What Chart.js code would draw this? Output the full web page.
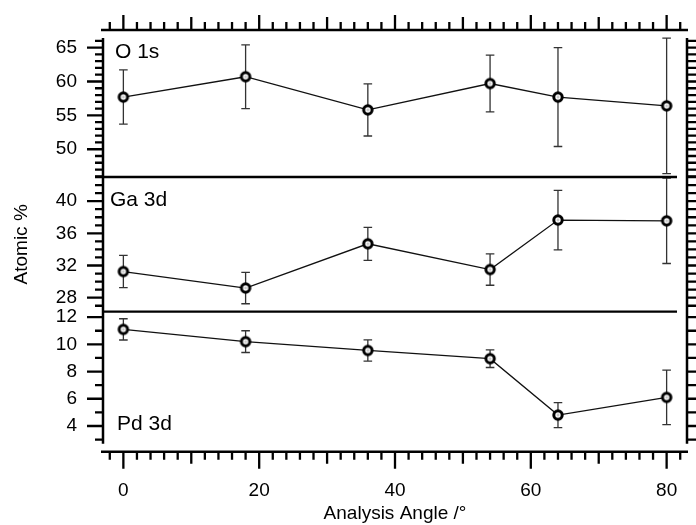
<!DOCTYPE html>
<html>
<head>
<meta charset="utf-8">
<script src="https://cdn.jsdelivr.net/npm/chart.js@4.4.0/dist/chart.umd.min.js"></script>
<style>
  html, body { margin: 0; padding: 0; background: #fff; }
  #wrap { width: 696px; height: 525px; }
</style>
</head>
<body>
<div id="wrap"><canvas id="chart"></canvas></div>
<script>
const angles = [0, 18, 36, 54, 64, 80];
const o1s = [57.7, 60.7, 55.8, 59.7, 57.7, 56.4];
const o1sErr = [4.0, 4.7, 3.85, 4.2, 7.3, 10.0];
const ga3d = [31.25, 29.2, 34.7, 31.5, 37.65, 37.55];
const ga3dErr = [2.0, 1.95, 2.05, 1.95, 3.7, 5.3];
const pd3d = [11.1, 10.2, 9.55, 8.95, 4.8, 6.1];
const pd3dErr = [0.78, 0.8, 0.78, 0.65, 0.92, 2.0];

const xTicks = [0, 20, 40, 60, 80];
const oTicks = [50, 55, 60, 65];
const gaTicks = [28, 32, 36, 40];
const pdTicks = [4, 6, 8, 10, 12];
const panelNames = ['O 1s', 'Ga 3d', 'Pd 3d'];

const FONT = '"Liberation Sans", Arial, sans-serif';

// marker: open circle with a faint cross
const marker = document.createElement('canvas');
marker.width = 14; marker.height = 14;
(function () {
  const m = marker.getContext('2d');
  m.fillStyle = '#fff';
  m.strokeStyle = '#000';
  m.lineWidth = 3;
  m.beginPath(); m.arc(7, 7, 4.2, 0, Math.PI * 2); m.fill(); m.stroke();
  m.lineWidth = 0.6;
  m.strokeStyle = '#999';
  m.beginPath();
  m.moveTo(5.5, 7); m.lineTo(8.5, 7);
  m.moveTo(7, 5.5); m.lineTo(7, 8.5);
  m.stroke();
})();

const toPts = vals => angles.map((a, i) => ({ x: a, y: vals[i] }));

const series = (vals, axis) => ({
  data: toPts(vals),
  yAxisID: axis,
  borderColor: '#111',
  borderWidth: 1.3,
  pointStyle: marker,
  pointRadius: 6,
  tension: 0,
  clip: false
});

// invisible tick marks are only used to push the labels away from the axis
const spacerGrid = len => ({
  display: true, drawOnChartArea: false, drawTicks: true,
  tickLength: len, tickColor: 'rgba(0,0,0,0)'
});

const yAxis = (min, max, weight, ticksArr, extra) => Object.assign({
  type: 'linear',
  position: 'left',
  stack: 'panels',
  stackWeight: weight,
  min: min,
  max: max,
  grid: spacerGrid(24),
  border: { display: false },
  afterBuildTicks: ax => { ax.ticks = ticksArr.map(v => ({ value: v })); },
  afterFit: ax => { ax.width = 103; },
  ticks: { autoSkip: false, padding: 2, color: '#000', font: { family: FONT, size: 19 } }
}, extra || {});

const frame = {
  id: 'frame',
  beforeDatasetsDraw(chart) {
    const { ctx, scales } = chart;
    const x = scales.x;
    ctx.save();
    ctx.strokeStyle = '#333';
    ctx.lineWidth = 1.3;
    [[scales.yO, o1s, o1sErr], [scales.yGa, ga3d, ga3dErr], [scales.yPd, pd3d, pd3dErr]].forEach(([ys, vals, errs]) => {
      angles.forEach((ang, i) => {
        const px = x.getPixelForValue(ang);
        const t = ys.getPixelForValue(vals[i] + errs[i]);
        const b = ys.getPixelForValue(vals[i] - errs[i]);
        ctx.beginPath();
        ctx.moveTo(px, t); ctx.lineTo(px, b);
        ctx.moveTo(px - 4.3, t); ctx.lineTo(px + 4.3, t);
        ctx.moveTo(px - 4.3, b); ctx.lineTo(px + 4.3, b);
        ctx.stroke();
      });
    });
    ctx.restore();
  },
  afterDraw(chart) {
    const { ctx, chartArea: a, scales } = chart;
    const x = scales.x;
    ctx.save();
    ctx.strokeStyle = '#000';
    ctx.lineCap = 'butt';

    // panel dividers
    ctx.lineWidth = 2.3;
    [scales.yGa.top, scales.yPd.top].forEach(y => {
      ctx.beginPath(); ctx.moveTo(a.left, y); ctx.lineTo(a.right - 10, y); ctx.stroke();
    });

    // axis lines
    ctx.lineWidth = 2.5;
    const yTop = a.top + 8, yBot = a.bottom - 8;
    ctx.beginPath();
    ctx.moveTo(a.left, yTop); ctx.lineTo(a.left, yBot);
    ctx.moveTo(a.right, yTop); ctx.lineTo(a.right, yBot);
    ctx.moveTo(a.left - 2, a.top); ctx.lineTo(a.right + 1, a.top);
    ctx.moveTo(a.left - 2, a.bottom); ctx.lineTo(a.right + 1, a.bottom);
    ctx.stroke();

    // x ticks (top and bottom)
    ctx.lineWidth = 2.3;
    for (let v = -2; v <= 82; v += 2) {
      const px = x.getPixelForValue(v);
      const major = v % 20 === 0, mid = v % 10 === 0;
      const up = major ? 15 : mid ? 13 : 8;
      const down = major ? 17 : mid ? 12 : 8;
      ctx.beginPath();
      ctx.moveTo(px, a.top); ctx.lineTo(px, a.top - up);
      ctx.moveTo(px, a.bottom); ctx.lineTo(px, a.bottom + down);
      ctx.stroke();
    }

    // y ticks (left and right)
    [[scales.yO, oTicks], [scales.yGa, gaTicks], [scales.yPd, pdTicks]].forEach(([ys, tk]) => {
      for (let v = Math.ceil(ys.min); v <= Math.floor(ys.max); v++) {
        const py = ys.getPixelForValue(v);
        if (py < yTop - 1 || py > yBot + 1) continue;
        const len = tk.includes(v) ? 16 : 8;
        ctx.beginPath();
        ctx.moveTo(a.left, py); ctx.lineTo(a.left - len, py);
        ctx.moveTo(a.right, py); ctx.lineTo(a.right + 9, py);
        ctx.stroke();
      }
    });

    // panel labels
    ctx.fillStyle = '#000';
    ctx.font = '21px ' + FONT;
    ctx.textBaseline = 'alphabetic';
    ctx.textAlign = 'left';
    ctx.fillText(panelNames[0], a.left + 12, scales.yO.top + 28);
    ctx.fillText(panelNames[1], a.left + 7, scales.yGa.top + 29);
    ctx.fillText(panelNames[2], a.left + 14, scales.yPd.bottom - 22);
    ctx.restore();
  }
};

new Chart(document.getElementById('chart').getContext('2d'), {
  type: 'line',
  data: {
    datasets: [
      series(pd3d, 'yPd'),
      series(ga3d, 'yGa'),
      series(o1s, 'yO')
    ]
  },
  options: {
    responsive: true,
    maintainAspectRatio: false,
    animation: false,
    events: [],
    layout: { padding: { top: 30, right: 9, left: 0, bottom: 0 } },
    plugins: { legend: { display: false }, tooltip: { enabled: false } },
    scales: {
      x: {
        type: 'linear',
        position: 'bottom',
        min: -3,
        max: 83,
        grid: spacerGrid(26),
        border: { display: false },
        afterBuildTicks: ax => { ax.ticks = xTicks.map(v => ({ value: v })); },
        afterFit: ax => { ax.height = 73.3; },
        ticks: { autoSkip: false, maxRotation: 0, padding: 2, color: '#000', font: { family: FONT, size: 19 } },
        title: { display: true, text: 'Analysis Angle /°', color: '#000', padding: 0, font: { family: FONT, size: 19 } }
      },
      yPd: yAxis(2.11, 12.4, 140, pdTicks),
      yGa: yAxis(26.26, 43.0, 134.7, gaTicks, {
        title: { display: true, text: 'Atomic %', color: '#000', padding: { top: 10, bottom: 0 }, font: { family: FONT, size: 19 } }
      }),
      yO: yAxis(45.9, 67.6, 147, oTicks)
    }
  },
  plugins: [frame]
});
</script>
</body>
</html>
